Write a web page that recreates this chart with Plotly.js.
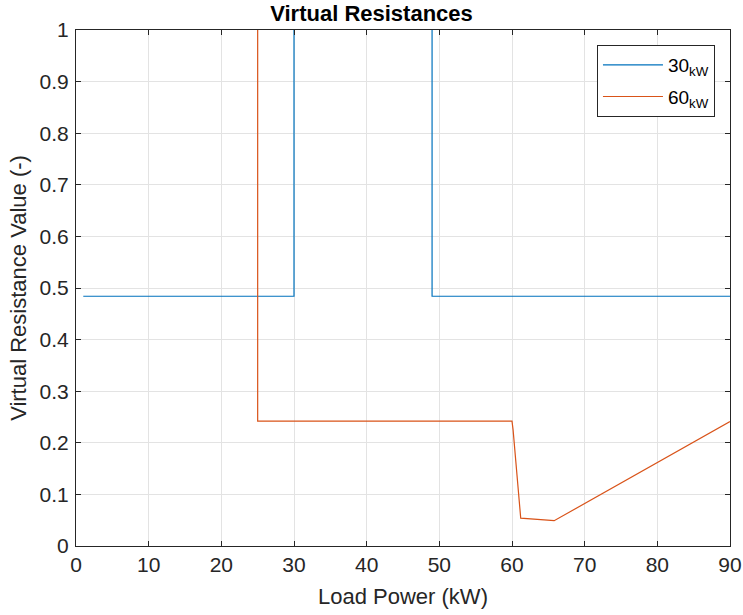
<!DOCTYPE html>
<html>
<head>
<meta charset="utf-8">
<script src="https://cdn.plot.ly/plotly-3.0.1.min.js"></script>
<style>
  html, body { margin: 0; padding: 0; background: #fff; }
  #chart { width: 743px; height: 615px; }
</style>
</head>
<body>
<div id="chart"></div>
<script>
// Virtual resistance vs. load power for two rated converter sizes
const load30 = [1, 30, 30, 49, 49, 90];
const res30  = [0.484, 0.484, 1.3, 1.3, 0.484, 0.484];

const load60 = [25, 25, 60, 60.15, 61.2, 65.8, 90];
const res60  = [1.3, 0.242, 0.242, 0.225, 0.054, 0.049, 0.241];

const seriesNames = ['30<sub>kW</sub>', '60<sub>kW</sub>'];
const xTicks = [0, 10, 20, 30, 40, 50, 60, 70, 80, 90];
const yTicks = [0, 0.1, 0.2, 0.3, 0.4, 0.5, 0.6, 0.7, 0.8, 0.9, 1];

const axisColor = '#262626';
const fontFam = 'Liberation Sans, Arial, sans-serif';

const traces = [
  { x: load30, y: res30, name: seriesNames[0], mode: 'lines', legendgroup: 'g30',
    line: { color: '#0072BD', width: 1.2 } },
  { x: load60, y: res60, name: seriesNames[1], mode: 'lines', legendgroup: 'g60',
    line: { color: '#D95319', width: 1.2 } }
];

const axisCommon = {
  showline: true, linecolor: axisColor, linewidth: 1, mirror: 'ticks',
  ticks: 'inside', ticklen: 5, tickcolor: axisColor, tickwidth: 1,
  showgrid: true, gridcolor: '#e3e3e3', gridwidth: 1,
  zeroline: false,
  tickfont: { family: fontFam, size: 21, color: axisColor }
};

const layout = {
  width: 743, height: 615,
  margin: { l: 76, r: 13, t: 30, b: 69 },
  paper_bgcolor: '#fff', plot_bgcolor: '#fff',
  title: { text: '<b>Virtual Resistances</b>', x: 0.5, xanchor: 'center',
           y: 0.978, yanchor: 'middle',
           font: { family: fontFam, size: 22, color: '#000' } },
  xaxis: Object.assign({}, axisCommon, {
    range: [0, 90], tickvals: xTicks, ticktext: xTicks.map(String),
    title: { text: 'Load Power (kW)', standoff: 13,
             font: { family: fontFam, size: 22, color: axisColor } }
  }),
  yaxis: Object.assign({}, axisCommon, {
    range: [0, 1], tickvals: yTicks, ticktext: yTicks.map(String),
    ticklabelstandoff: 2,
    title: { text: 'Virtual Resistance Value (-)', standoff: 6,
             font: { family: fontFam, size: 22, color: axisColor } }
  }),
  showlegend: true,
  legend: {
    x: 0.977, y: 0.971, xanchor: 'right', yanchor: 'top',
    bgcolor: '#fff', bordercolor: axisColor, borderwidth: 1,
    font: { family: fontFam, size: 19, color: '#000' },
    traceorder: 'grouped', tracegroupgap: 4, itemwidth: 60
  }
};

Plotly.newPlot('chart', traces, layout, { displayModeBar: false, staticPlot: true });
</script>
</body>
</html>
